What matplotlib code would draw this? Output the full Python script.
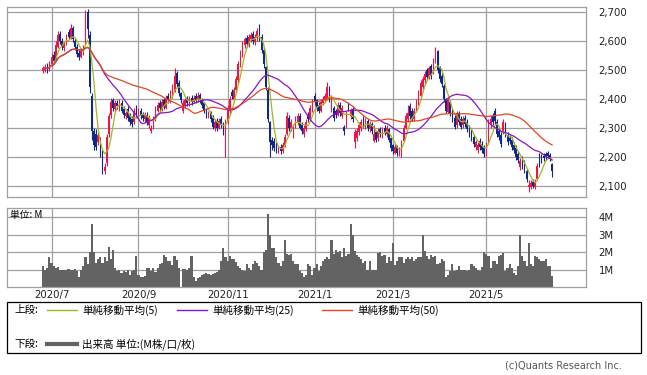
"""Daily candlestick chart with moving averages and volume (Jun 2020 - Jun 2021)"""

import matplotlib
matplotlib.use('Agg')
import matplotlib.pyplot as plt
from matplotlib.patches import Rectangle
from matplotlib.lines import Line2D
import numpy as np
import pandas as pd

# Trading calendar (TSE holidays inside the period)
holidays = ['2020-07-23', '2020-07-24', '2020-08-10', '2020-09-21', '2020-09-22',
            '2020-11-03', '2020-11-23', '2020-12-31', '2021-01-01', '2021-01-11',
            '2021-02-11', '2021-02-23', '2021-04-29', '2021-05-03', '2021-05-04',
            '2021-05-05']
dates = pd.bdate_range('2020-06-25', '2021-06-18', freq='C', holidays=holidays)

# Prices
opens = [2495, 2500, 2515, 2500, 2520, 2550, 2535, 2580, 2625, 2600,
         2575, 2590, 2630, 2610, 2645, 2600, 2580, 2560, 2545, 2560,
         2590, 2700, 2620, 2410, 2290, 2280, 2250, 2265, 2220, 2150,
         2180, 2280, 2345, 2395, 2365, 2385, 2370, 2385, 2365, 2340,
         2365, 2340, 2330, 2320, 2365, 2340, 2360, 2345, 2330, 2345,
         2310, 2290, 2300, 2330, 2360, 2385, 2365, 2395, 2370, 2410,
         2395, 2415, 2430, 2490, 2455, 2420, 2360, 2380, 2400, 2385,
         2405, 2390, 2410, 2395, 2415, 2395, 2385, 2365, 2340, 2355,
         2335, 2300, 2325, 2300, 2330, 2310, 2260, 2320, 2360, 2425,
         2400, 2430, 2465, 2520, 2555, 2585, 2610, 2590, 2605, 2625,
         2595, 2610, 2645, 2615, 2570, 2510, 2430, 2320, 2260, 2255,
         2240, 2220, 2235, 2220, 2240, 2280, 2335, 2300, 2275, 2305,
         2320, 2340, 2310, 2280, 2295, 2345, 2330, 2360, 2410, 2395,
         2380, 2360, 2385, 2395, 2400, 2440, 2360, 2370, 2360, 2345,
         2380, 2340, 2305, 2310, 2380, 2340, 2365, 2250, 2265, 2285,
         2300, 2330, 2305, 2325, 2295, 2315, 2255, 2285, 2265, 2295,
         2275, 2300, 2280, 2295, 2265, 2240, 2215, 2235, 2210, 2220,
         2255, 2300, 2330, 2375, 2360, 2330, 2365, 2385, 2410, 2440,
         2465, 2500, 2475, 2515, 2490, 2530, 2565, 2510, 2480, 2445,
         2400, 2355, 2390, 2360, 2335, 2310, 2350, 2330, 2310, 2335,
         2320, 2300, 2285, 2270, 2235, 2225, 2255, 2245, 2230, 2215,
         2250, 2310, 2340, 2360, 2320, 2290, 2275, 2285, 2310, 2275,
         2265, 2260, 2240, 2230, 2210, 2165, 2195, 2180, 2150, 2095,
         2095, 2115, 2098, 2125, 2205, 2200, 2205, 2210, 2212, 2208,
         2175]
highs = [2515, 2520, 2525, 2530, 2560, 2565, 2600, 2635, 2635, 2610,
         2600, 2625, 2640, 2660, 2650, 2610, 2590, 2570, 2575, 2585,
         2705, 2710, 2635, 2420, 2300, 2295, 2285, 2270, 2225, 2180,
         2280, 2350, 2405, 2405, 2395, 2395, 2400, 2395, 2375, 2360,
         2375, 2350, 2340, 2370, 2380, 2370, 2370, 2355, 2355, 2355,
         2345, 2310, 2340, 2375, 2390, 2395, 2400, 2405, 2415, 2420,
         2430, 2450, 2507, 2495, 2465, 2425, 2395, 2405, 2410, 2410,
         2415, 2415, 2420, 2425, 2420, 2405, 2390, 2370, 2360, 2360,
         2345, 2330, 2335, 2335, 2340, 2320, 2330, 2380, 2410, 2435,
         2440, 2480, 2530, 2570, 2600, 2615, 2620, 2625, 2630, 2635,
         2625, 2645, 2660, 2625, 2580, 2515, 2440, 2325, 2270, 2265,
         2250, 2240, 2245, 2250, 2280, 2355, 2345, 2330, 2315, 2340,
         2350, 2350, 2320, 2310, 2330, 2355, 2380, 2400, 2420, 2400,
         2390, 2400, 2410, 2420, 2460, 2445, 2415, 2375, 2365, 2390,
         2390, 2380, 2310, 2360, 2390, 2370, 2375, 2295, 2300, 2320,
         2330, 2340, 2335, 2330, 2325, 2320, 2310, 2290, 2300, 2305,
         2305, 2310, 2310, 2300, 2270, 2245, 2245, 2240, 2235, 2260,
         2310, 2350, 2380, 2385, 2370, 2370, 2400, 2430, 2465, 2480,
         2495, 2505, 2515, 2520, 2540, 2578, 2570, 2515, 2490, 2450,
         2405, 2405, 2395, 2370, 2345, 2360, 2360, 2340, 2340, 2345,
         2330, 2310, 2295, 2280, 2260, 2250, 2265, 2255, 2240, 2250,
         2330, 2345, 2350, 2370, 2330, 2300, 2285, 2330, 2320, 2285,
         2275, 2270, 2250, 2240, 2220, 2195, 2205, 2190, 2160, 2120,
         2120, 2125, 2125, 2180, 2212, 2210, 2212, 2218, 2222, 2215,
         2180]
lows = [2488, 2492, 2490, 2495, 2515, 2520, 2530, 2575, 2590, 2570,
        2565, 2585, 2605, 2605, 2595, 2570, 2545, 2535, 2540, 2550,
        2585, 2610, 2420, 2260, 2225, 2225, 2240, 2200, 2140, 2140,
        2170, 2270, 2335, 2360, 2355, 2365, 2360, 2350, 2335, 2330,
        2325, 2310, 2305, 2315, 2335, 2330, 2330, 2325, 2320, 2310,
        2300, 2283, 2295, 2325, 2355, 2360, 2360, 2365, 2365, 2385,
        2385, 2405, 2425, 2440, 2410, 2385, 2350, 2370, 2375, 2375,
        2380, 2385, 2385, 2390, 2385, 2370, 2350, 2335, 2335, 2320,
        2295, 2290, 2290, 2295, 2300, 2275, 2200, 2315, 2350, 2400,
        2390, 2420, 2455, 2510, 2545, 2575, 2580, 2580, 2595, 2590,
        2585, 2600, 2600, 2560, 2505, 2430, 2320, 2200, 2225, 2220,
        2215, 2212, 2210, 2215, 2235, 2275, 2290, 2290, 2265, 2300,
        2310, 2295, 2280, 2270, 2290, 2320, 2325, 2355, 2380, 2360,
        2350, 2355, 2380, 2390, 2395, 2390, 2355, 2325, 2335, 2340,
        2340, 2335, 2275, 2300, 2360, 2330, 2320, 2230, 2255, 2275,
        2290, 2300, 2295, 2290, 2285, 2280, 2250, 2250, 2255, 2270,
        2265, 2275, 2270, 2250, 2220, 2210, 2210, 2205, 2205, 2200,
        2250, 2295, 2320, 2330, 2325, 2325, 2360, 2380, 2400, 2435,
        2455, 2465, 2470, 2470, 2485, 2525, 2490, 2460, 2440, 2390,
        2350, 2350, 2340, 2320, 2295, 2300, 2310, 2295, 2300, 2305,
        2285, 2270, 2255, 2235, 2225, 2215, 2225, 2215, 2200, 2205,
        2245, 2300, 2310, 2315, 2270, 2260, 2235, 2280, 2270, 2240,
        2245, 2225, 2215, 2190, 2180, 2155, 2160, 2145, 2115, 2078,
        2088, 2092, 2090, 2120, 2165, 2180, 2185, 2190, 2195, 2185,
        2130]
closes = [2505, 2510, 2500, 2520, 2545, 2530, 2585, 2620, 2600, 2580,
          2590, 2615, 2615, 2645, 2605, 2580, 2555, 2545, 2565, 2575,
          2690, 2640, 2440, 2290, 2240, 2235, 2275, 2220, 2160, 2165,
          2270, 2340, 2390, 2370, 2385, 2375, 2390, 2360, 2345, 2350,
          2335, 2320, 2315, 2360, 2345, 2360, 2340, 2335, 2345, 2320,
          2335, 2300, 2330, 2365, 2380, 2370, 2390, 2375, 2405, 2395,
          2420, 2440, 2480, 2450, 2420, 2395, 2385, 2395, 2385, 2400,
          2390, 2405, 2395, 2410, 2395, 2380, 2360, 2345, 2350, 2330,
          2305, 2320, 2300, 2325, 2310, 2290, 2320, 2370, 2400, 2410,
          2430, 2470, 2520, 2560, 2590, 2605, 2590, 2615, 2620, 2600,
          2615, 2635, 2610, 2570, 2520, 2440, 2330, 2250, 2240, 2230,
          2225, 2230, 2220, 2240, 2270, 2340, 2300, 2320, 2305, 2330,
          2340, 2300, 2290, 2300, 2320, 2330, 2370, 2390, 2390, 2370,
          2360, 2390, 2400, 2410, 2440, 2400, 2400, 2335, 2345, 2380,
          2350, 2370, 2290, 2350, 2370, 2360, 2330, 2285, 2290, 2310,
          2320, 2310, 2325, 2300, 2315, 2290, 2280, 2260, 2290, 2280,
          2295, 2285, 2300, 2260, 2230, 2220, 2235, 2215, 2225, 2250,
          2300, 2340, 2350, 2340, 2335, 2360, 2390, 2420, 2455, 2470,
          2485, 2475, 2505, 2480, 2530, 2560, 2500, 2470, 2450, 2400,
          2360, 2395, 2350, 2330, 2305, 2350, 2320, 2305, 2330, 2315,
          2295, 2280, 2265, 2245, 2250, 2240, 2235, 2225, 2210, 2240,
          2320, 2330, 2320, 2325, 2280, 2270, 2245, 2320, 2280, 2250,
          2255, 2235, 2225, 2200, 2190, 2185, 2170, 2155, 2125, 2105,
          2110, 2100, 2115, 2170, 2175, 2190, 2195, 2200, 2205, 2195,
          2150]

# Volume in millions of shares
volume = [1.2, 1.0, 1.1, 1.7, 1.4, 1.2, 1.1, 1.15, 1.0, 0.95,
          0.95, 1.0, 1.05, 0.95, 1.0, 1.05, 0.9, 0.55, 1.0, 1.2,
          1.75, 1.3, 2.0, 3.6, 2.0, 1.4, 1.6, 1.7, 1.4, 1.7,
          1.5, 2.3, 1.6, 2.1, 1.1, 0.9, 0.95, 0.8, 0.9, 0.85,
          0.95, 0.7, 0.9, 1.0, 1.8, 0.7, 0.6, 0.6, 0.65, 1.1,
          1.1, 0.9, 1.1, 0.85, 1.1, 1.3, 1.4, 1.85, 1.75, 1.5,
          1.5, 1.25, 1.8, 1.55, 1.1, 0.0, 1.05, 1.05, 1.0, 1.1,
          1.8, 0.6, 0.35, 0.5, 0.6, 0.7, 0.75, 0.8, 0.75, 0.7,
          0.75, 0.8, 0.85, 0.95, 1.5, 2.25, 1.7, 1.5, 1.8, 1.6,
          1.6, 1.45, 1.2, 1.1, 1.0, 0.9, 1.3, 1.1, 1.0, 1.3,
          1.5, 1.4, 1.2, 1.0, 2.0, 2.1, 4.2, 3.0, 2.25, 2.25,
          1.7, 1.4, 1.2, 1.5, 2.7, 1.9, 1.85, 1.9, 1.5, 1.3,
          1.3, 0.9, 0.8, 0.6, 0.7, 1.3, 1.2, 0.7, 1.1, 1.3,
          0.9, 1.2, 1.5, 1.6, 1.7, 1.6, 2.7, 1.9, 2.1, 2.0,
          2.05, 1.75, 2.25, 1.8, 1.9, 3.6, 3.0, 2.05, 1.85, 1.7,
          1.6, 1.4, 1.5, 1.0, 1.5, 1.0, 1.0, 1.0, 1.95, 2.0,
          1.8, 1.85, 1.4, 1.7, 1.5, 2.5, 1.25, 1.5, 1.75, 1.7,
          1.4, 1.6, 1.7, 1.6, 1.7, 1.5, 1.6, 1.7, 1.7, 3.0,
          2.05, 1.8, 1.6, 1.85, 1.7, 1.8, 1.3, 1.4, 1.6, 1.5,
          0.6, 0.7, 0.9, 1.3, 0.9, 1.0, 1.2, 0.95, 1.0, 0.95,
          0.9, 1.0, 1.3, 1.2, 1.1, 1.0, 0.9, 1.15, 2.0, 1.9,
          1.8, 1.1, 1.5, 1.5, 1.3, 1.8, 1.85, 1.95, 0.9, 1.1,
          1.3, 1.1, 0.8, 0.7, 1.2, 3.0, 1.8, 1.5, 1.2, 2.55,
          1.3, 1.2, 1.8, 1.7, 1.6, 1.5, 1.5, 1.6, 1.2, 1.2,
          0.65]

ma_windows = [5, 25, 50]
ma_colors = ['#a3b81c', '#8a14c8', '#e2461e']
up_color = '#f01548'
down_color = '#10288a'
grid_color = '#a0a0a0'

df = pd.DataFrame({'open': opens, 'high': highs, 'low': lows, 'close': closes,
                   'volume': volume}, index=dates)
x = np.arange(len(df))

W, H = 647, 375
fig = plt.figure(figsize=(W / 100, H / 100), dpi=100)
ax = fig.add_axes([7 / W, 1 - 197 / H, 579 / W, 190 / H])
axv = fig.add_axes([7 / W, 1 - 287 / H, 579 / W, 79 / H])

# Month ticks: first trading day of odd months
month_pos = [i for i in range(1, len(df)) if dates[i].month != dates[i - 1].month
             and dates[i].month % 2 == 1]
month_lbl = [f'{dates[i].year}/{dates[i].month}' for i in month_pos]

# Candles
up = df['close'] >= df['open']
colors = np.where(up, up_color, down_color)
ax.vlines(x, df['low'], df['high'], colors=colors, lw=0.8)
body_lo = np.minimum(df['open'], df['close'])
body_h = np.maximum(np.abs(df['close'] - df['open']), 2)
ax.bar(x, body_h, bottom=body_lo, width=0.75, color=colors, linewidth=0)

# Moving averages
for n, c in zip(ma_windows, ma_colors):
    ma = df['close'].rolling(n, min_periods=1).mean()
    ax.plot(x, ma, color=c, lw=0.9)

# Volume
axv.bar(x, df['volume'], width=1.0, color='#636363', linewidth=0)

for a in (ax, axv):
    a.set_xlim(-17, 256)
    a.set_xticks(month_pos)
    a.grid(True, color=grid_color, lw=0.9)
    a.set_axisbelow(True)
    for s in a.spines.values():
        s.set_color(grid_color)
        s.set_linewidth(0.9)
    a.yaxis.tick_right()
    a.tick_params(axis='y', length=0, pad=9, labelsize=7.3, colors='#222222')
    a.tick_params(axis='x', length=0)

ax.set_ylim(2062, 2717)
ax.set_yticks(range(2100, 2701, 100))
ax.set_yticklabels([f'{v:,}' for v in range(2100, 2701, 100)])
ax.set_xticklabels([])

axv.set_ylim(0, 4.54)
axv.set_yticks([1, 2, 3, 4])
axv.set_yticklabels(['1M', '2M', '3M', '4M'])
axv.set_xticklabels(month_lbl)
axv.tick_params(axis='x', pad=2, labelsize=7.3, colors='#222222')

jp = ['Noto Sans CJK JP', 'DejaVu Sans']
fig.text(10 / W, 1 - 215 / H, '単位: M', family=jp, fontsize=7, va='center')

# Legend box
fig.patches.append(Rectangle((7 / W, 1 - 353 / H), 634 / W, 51 / H,
                             transform=fig.transFigure, fill=False,
                             edgecolor='black', lw=0.9))
y1, y2 = 1 - 310 / H, 1 - 344 / H
fig.text(14 / W, y1, '上段:', family=jp, fontsize=7.6, va='center')
labels = ['単純移動平均(5)', '単純移動平均(25)', '単純移動平均(50)']
line_x = [47, 177, 322]
for lx, lab, c in zip(line_x, labels, ma_colors):
    fig.lines.append(Line2D([lx / W, (lx + 30) / W], [y1, y1], color=c, lw=1,
                            transform=fig.transFigure))
    fig.text((lx + 35) / W, y1, lab, family=jp, fontsize=7.6, va='center')
fig.text(14 / W, y2, '下段:', family=jp, fontsize=7.6, va='center')
fig.lines.append(Line2D([47 / W, 77 / W], [y2, y2], color='#636363', lw=3,
                        transform=fig.transFigure))
fig.text(82 / W, y2, '出来高 単位:(M株/口/枚)', family=jp, fontsize=7.6, va='center')

fig.text(622 / W, 1 - 366 / H, '(c)Quants Research Inc.', fontsize=7,
         color='#555555', ha='right', va='center')

fig.savefig('out.png', dpi=100)
